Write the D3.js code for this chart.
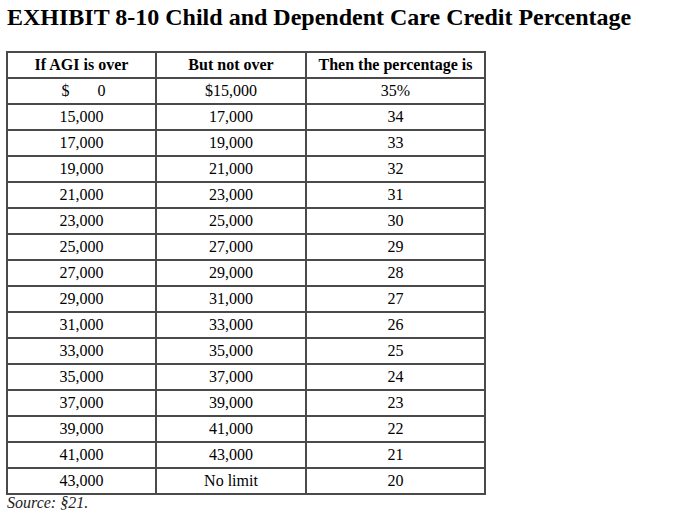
<!DOCTYPE html>
<html><head><meta charset="utf-8">
<script src="https://cdn.jsdelivr.net/npm/d3@7/dist/d3.min.js"></script>
<style>body{margin:0;background:#fff}svg{display:block}</style>
</head><body>
<svg id="c" width="688" height="518"></svg>
<script>
const title = "EXHIBIT 8-10 Child and Dependent Care Credit Percentage";
const headers = ["If AGI is over", "But not over", "Then the percentage is"];
const agiOver = ["$\u00a0\u00a0\u00a0\u00a0\u00a0\u00a0\u00a00","15,000","17,000","19,000","21,000","23,000","25,000","27,000","29,000","31,000","33,000","35,000","37,000","39,000","41,000","43,000"];
const notOver = ["$15,000","17,000","19,000","21,000","23,000","25,000","27,000","29,000","31,000","33,000","35,000","37,000","39,000","41,000","43,000","No limit"];
const percent = ["35%","34","33","32","31","30","29","28","27","26","25","24","23","22","21","20"];
const source = "Source: §21.";

const svg = d3.select("#c");
const font = "'Liberation Serif','Times New Roman',serif";
const colEdges = [7, 156, 306, 485];
const rowsIdx = d3.range(agiOver.length + 1);
const y = d3.scaleBand().domain(rowsIdx).range([52, 494]);
const stroke = "#4a4a4a";

svg.append("text").attr("x", 7).attr("y", 25)
  .attr("font-family", font).attr("font-weight", "bold").attr("font-size", 24)
  .attr("fill", "#000").text(title);

const cells = [];
headers.forEach((h, c) => cells.push({r: 0, c, t: h, b: true}));
agiOver.forEach((v, i) => {
  cells.push({r: i+1, c: 0, t: v, dx: i === 0 ? 2 : 0});
  cells.push({r: i+1, c: 1, t: notOver[i]});
  cells.push({r: i+1, c: 2, t: percent[i]});
});

const g = svg.append("g");
rowsIdx.concat([rowsIdx.length]).forEach(r => {
  const yy = r < rowsIdx.length ? y(r) : y.range()[1];
  g.append("line").attr("x1", colEdges[0]-1).attr("x2", colEdges[3]+1)
    .attr("y1", yy).attr("y2", yy).attr("stroke", stroke).attr("stroke-width", 2);
});
colEdges.forEach(x => {
  g.append("line").attr("x1", x).attr("x2", x)
    .attr("y1", y.range()[0]-1).attr("y2", y.range()[1]+1)
    .attr("stroke", stroke).attr("stroke-width", 2);
});

svg.append("g").selectAll("text").data(cells).join("text")
  .attr("x", d => (colEdges[d.c] + colEdges[d.c+1]) / 2 + (d.dx || 0))
  .attr("y", d => y(d.r) + y.bandwidth()/2 + 5)
  .attr("text-anchor", "middle")
  .attr("font-family", font)
  .attr("font-size", 16)
  .attr("font-weight", d => d.b ? "bold" : "normal")
  .attr("fill", "#000")
  .text(d => d.t);

svg.append("text").attr("x", 7).attr("y", 508)
  .attr("font-family", font).attr("font-style", "italic").attr("font-size", 16)
  .attr("fill", "#222").text(source);
</script>
</body></html>
